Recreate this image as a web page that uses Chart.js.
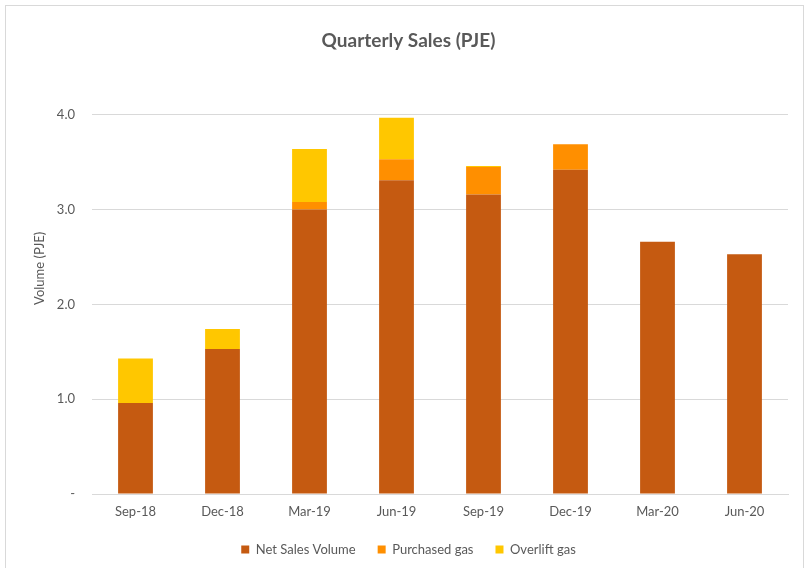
<!DOCTYPE html>
<html>
<head>
<meta charset="utf-8">
<script src="https://cdn.jsdelivr.net/npm/chart.js@4/dist/chart.umd.min.js"></script>
<style>
  html, body { margin: 0; padding: 0; background: #fff; }
  #wrap { position: relative; width: 809px; height: 568px; }
  #frame { position: absolute; left: 5px; top: 5px; width: 797px; height: 570px; border: 1px solid #d9d9d9; pointer-events: none; }
  canvas { display: block; }
</style>
</head>
<body>
<div id="wrap">
  <canvas id="c" width="809" height="568"></canvas>
  <div id="frame"></div>
</div>
<script>
const categories = ["Sep-18", "Dec-18", "Mar-19", "Jun-19", "Sep-19", "Dec-19", "Mar-20", "Jun-20"];
const netSales   = [0.96, 1.53, 3.00, 3.31, 3.16, 3.42, 2.66, 2.53];
const purchased  = [0.00, 0.00, 0.08, 0.22, 0.29, 0.27, 0.00, 0.00];
const overlift   = [0.47, 0.21, 0.56, 0.44, 0.01, 0.00, 0.00, 0.00];
const yTicks     = [0, 1, 2, 3, 4];
const yTitle     = "Volume (PJE)";

const FONT = "Lato, 'Liberation Sans', sans-serif";
const TXT = "#595959";

const yTitlePlugin = {
  id: "yTitle",
  afterDraw(chart) {
    const ctx = chart.ctx;
    const area = chart.chartArea;
    ctx.save();
    ctx.fillStyle = TXT;
    ctx.font = "13px " + FONT;
    ctx.textAlign = "center";
    ctx.textBaseline = "middle";
    ctx.translate(40, area.top + (area.bottom - area.top) * 0.405);
    ctx.rotate(-Math.PI / 2);
    ctx.fillText(yTitle, 0, 0);
    ctx.restore();
  }
};

new Chart(document.getElementById("c"), {
  type: "bar",
  data: {
    labels: categories,
    datasets: [
      { label: "Net Sales Volume", data: netSales, backgroundColor: "#C55A11", barPercentage: 0.8, categoryPercentage: 0.5 },
      { label: "Purchased gas", data: purchased, backgroundColor: "#FF8F00", barPercentage: 0.8, categoryPercentage: 0.5 },
      { label: "Overlift gas", data: overlift, backgroundColor: "#FFC700", barPercentage: 0.8, categoryPercentage: 0.5 }
    ]
  },
  plugins: [yTitlePlugin],
  options: {
    responsive: false,
    animation: false,
    layout: { padding: { left: 29, right: 21, top: 29, bottom: 2 } },
    plugins: {
      title: {
        display: true,
        text: "Quarterly Sales (PJE)",
        color: TXT,
        font: { family: FONT, size: 19, weight: "bold" },
        padding: { top: 0, bottom: 63 }
      },
      legend: {
        position: "bottom",
        labels: {
          color: TXT,
          font: { family: FONT, size: 13 },
          boxWidth: 8,
          boxHeight: 8,
          padding: 22
        }
      },
      tooltip: { enabled: false }
    },
    scales: {
      x: {
        stacked: true,
        afterFit: (s) => { s.height = 27; },
        grid: { display: false, drawTicks: false },
        border: { display: true, color: "#d9d9d9" },
        ticks: { color: TXT, font: { family: FONT, size: 13 }, padding: 10 }
      },
      y: {
        stacked: true,
        min: 0,
        max: 4,
        afterBuildTicks: (s) => { s.ticks = yTicks.map(v => ({ value: v })); },
        afterFit: (s) => { s.width = 63; },
        grid: { color: "#d9d9d9", drawTicks: false },
        border: { display: false },
        ticks: {
          color: TXT,
          font: { family: FONT, size: 13 },
          padding: 17,
          callback: (v) => v === 0 ? "-" : Number(v).toFixed(1)
        }
      }
    }
  }
});
</script>
</body>
</html>
